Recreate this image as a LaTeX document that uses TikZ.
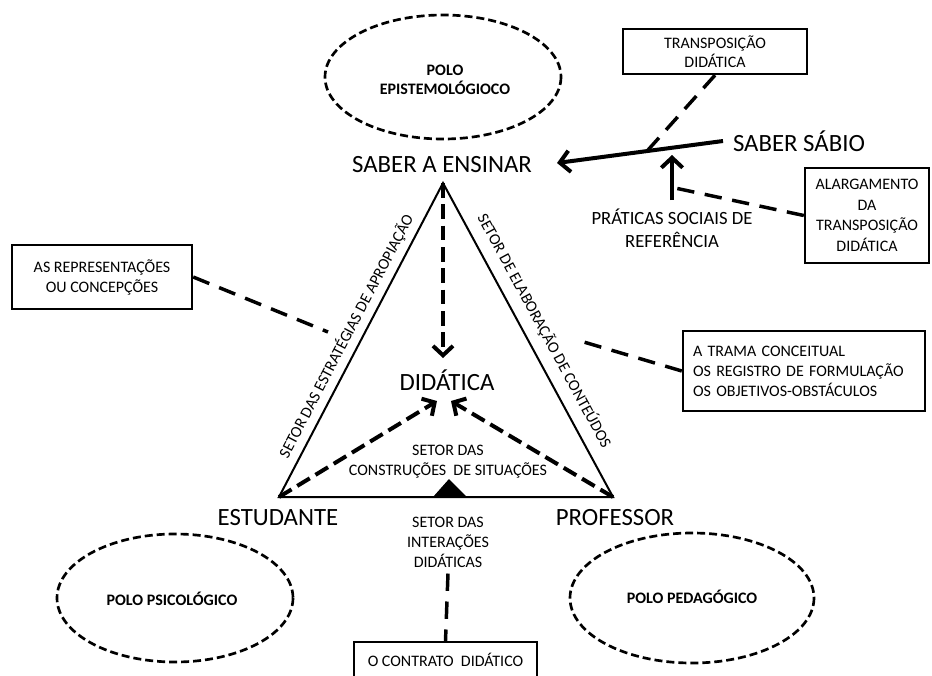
\documentclass[tikz,border=0pt]{standalone}
\usepackage{fontspec}
\setmainfont{Carlito}
\usetikzlibrary{arrows.meta,shapes.geometric}
\begin{document}
\begin{tikzpicture}[x=0.75pt,y=-0.75pt,
  bigtxt/.style={font=\fontsize{18.6}{22}\selectfont, inner sep=0pt},
  smalltxt/.style={font=\fontsize{12}{15}\selectfont, align=center, inner sep=0pt},
  midtxt/.style={font=\fontsize{14}{17}\selectfont, align=center, inner sep=0pt},
  polotxt/.style={font=\bfseries\fontsize{12}{14.5}\selectfont, align=center, inner sep=0pt},
  poloring/.style={line width=2pt, dash pattern=on 6pt off 3pt},
  infobox/.style={draw, line width=1.8pt, font=\fontsize{12}{15}\selectfont,
    align=center, inner sep=0pt},
  conn/.style={line width=2.6pt, dash pattern=on 13pt off 8pt},
  darrow/.style={line width=3pt, dash pattern=on 11pt off 5pt,
    -{Straight Barb[length=7pt,width=15pt]}},
  sarrow/.style={line width=3pt, -{Straight Barb[length=7.5pt,width=16pt]}},
  triside/.style={line width=1.5pt}
]
\useasboundingbox (0,0) rectangle (932,675);
\clip (0,0) rectangle (932,675);

% triangle corners
\coordinate (A) at (443,183);
\coordinate (E) at (279,497);
\coordinate (P) at (613,497);

% polos
\draw[poloring] (443,77) ellipse [x radius=118, y radius=62];
\node[polotxt] (pepist) at (445,80) {POLO\\EPISTEMOLÓGIOCO};
\draw[poloring] (175,598) ellipse [x radius=118, y radius=64];
\node[polotxt] (ppsic) at (172,599) {POLO PSICOLÓGICO};
\draw[poloring] (692,598) ellipse [x radius=122, y radius=65];
\node[polotxt] (pped) at (692,597) {POLO PEDAGÓGICO};

% main labels
\node[bigtxt] (ensinar) at (442,165) {SABER A ENSINAR};
\node[bigtxt] (sabio) at (799,141) {SABER SÁBIO};
\node[bigtxt] (didatica) at (447,380) {DIDÁTICA};
\node[bigtxt] (estudante) at (278,518) {ESTUDANTE};
\node[bigtxt] (professor) at (615,518) {PROFESSOR};

% triangle
\draw[triside] (A) -- (E) -- (P) -- cycle;
\path (E) -- (A) node[pos=0.49, sloped, above=5pt, smalltxt] (lblleft) {SETOR DAS ESTRATÉGIAS DE APROPIAÇÃO};
\path (A) -- (P) node[pos=0.50, sloped, above=8pt, smalltxt] (lblright) {SETOR DE ELABORAÇÃO DE CONTEÚDOS};

% inner texts
\node[smalltxt] (construcoes) at (448,462) {SETOR DAS\\CONSTRUÇÕES \ DE SITUAÇÕES};
\node[smalltxt] (interacoes) at (448,542) {SETOR DAS\\INTERAÇÕES\\DIDÁTICAS};
\coordinate (tri1) at (449,479);
\coordinate (tri2) at (433,497);
\coordinate (tri3) at (467,497);
\fill (tri1) -- (tri2) -- (tri3) -- cycle;

% dashed arrows to DIDATICA
\coordinate (tipdown) at (443,358);
\coordinate (tipleft) at (437,401);
\coordinate (tipright) at (451,401);
\draw[darrow] (A) -- (tipdown);
\draw[darrow] (E) -- (tipleft);
\draw[darrow] (P) -- (tipright);

% boxes
\node[infobox, minimum width=135pt, minimum height=48pt] (repres) at (102,277) {AS REPRESENTAÇÕES\\OU CONCEPÇÕES};
\node[infobox, minimum width=181.5pt, minimum height=60pt, text width=166.5pt, align=left] (trama) at (804,371)
  {A TRAMA CONCEITUAL\\OS REGISTRO DE FORMULAÇÃO\\OS OBJETIVOS-OBSTÁCULOS};
\node[infobox, minimum width=138pt, minimum height=33.75pt, font=\fontsize{12}{14.3}\selectfont] (transp) at (715,51.5) {TRANSPOSIÇÃO\\DIDÁTICA};
\node[infobox, minimum width=93pt, minimum height=71.25pt, font=\fontsize{12}{15.5}\selectfont] (alarg) at (867,215.5) {ALARGAMENTO\\DA\\TRANSPOSIÇÃO\\DIDÁTICA};
\node[infobox, minimum width=137.25pt, minimum height=27pt] (contrato) at (445.5,660) {O CONTRATO \ DIDÁTICO};

% practices
\node[midtxt] (praticas) at (672,228) {PRÁTICAS SOCIAIS DE\\REFERÊNCIA};

% saber sabio arrow
\coordinate (sabioStart) at (723,141);
\coordinate (ensTip) at (557,163);
\draw[sarrow] (sabioStart) -- (ensTip);
\coordinate (praTop) at (672,200);
\coordinate (praTip) at (672,155);
\draw[sarrow] (praTop) -- (praTip);

% dashed connectors
\coordinate (c1) at (328,332);
\draw[conn] (repres.east) -- (c1);
\coordinate (c2) at (577,340);
\draw[conn] (trama.west) -- (c2);
\coordinate (c3) at (648,150);
\draw[conn] (transp.south) -- (c3);
\coordinate (c4) at (675,188);
\draw[conn] (alarg.west) -- (c4);
\draw[conn] (interacoes.south) ++(0,6) -- (contrato.north);
\end{tikzpicture}
\end{document}
